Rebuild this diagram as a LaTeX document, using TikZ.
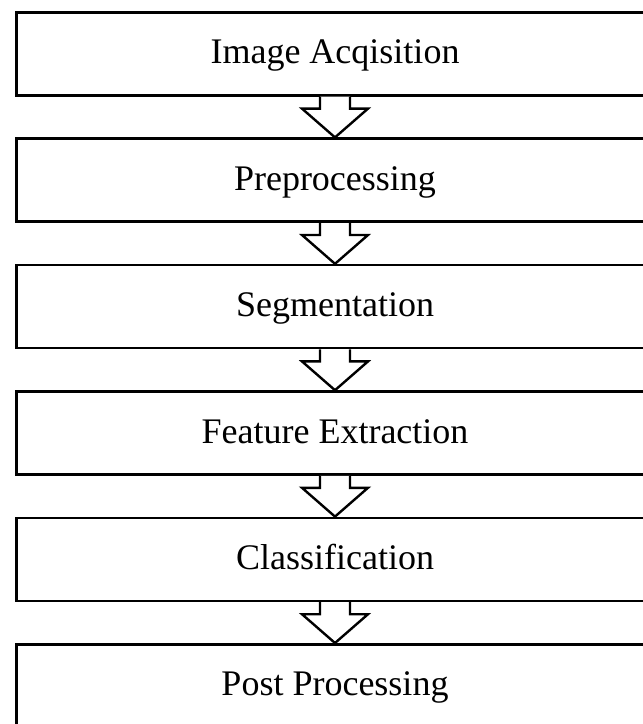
\documentclass[tikz,border=0pt]{standalone}
\usepackage{fontspec}
\setmainfont{Liberation Serif}
\usetikzlibrary{calc}
\begin{document}
\begin{tikzpicture}[x=1pt,y=-1pt,
  stagebox/.style={draw=black,line width=2.6pt,minimum width=700pt,minimum height=83pt,
    anchor=north west,inner sep=0pt},
  stagetext/.style={font=\fontsize{36}{40}\selectfont,anchor=base,inner sep=0pt},
  flowarrow/.style={draw=black,line width=2.4pt,fill=white,line join=miter}]
\useasboundingbox (0,0) rectangle (643,724);
\clip (0,0) rectangle (643,724);
\foreach \i/\t in {0/Image Acqisition,1/Preprocessing,2/Segmentation,3/Feature Extraction,4/Classification,5/Post Processing}{
  \node[stagebox] (b\i) at (15,11+126.4*\i) {};
  \node[stagetext] (t\i) at (335,63.8+126.4*\i) {\t};
}
\foreach \i [evaluate=\i as \j using int(\i+1)] in {0,...,4}{
  \path let \p1=(b\i.south west), \p2=(b\j.north west) in
    coordinate (s\i) at (335pt,\y1) coordinate (e\i) at (335pt,\y2);
  \draw[flowarrow] let \p1=(s\i), \p2=(e\i) in
    (\x1-15pt,\y1) -- (\x1-15pt,\y1-12pt) -- (\x1-33pt,\y1-12pt) -- (\x2,\y2) -- (\x1+33pt,\y1-12pt)
    -- (\x1+15pt,\y1-12pt) -- (\x1+15pt,\y1);
}
\end{tikzpicture}
\end{document}
